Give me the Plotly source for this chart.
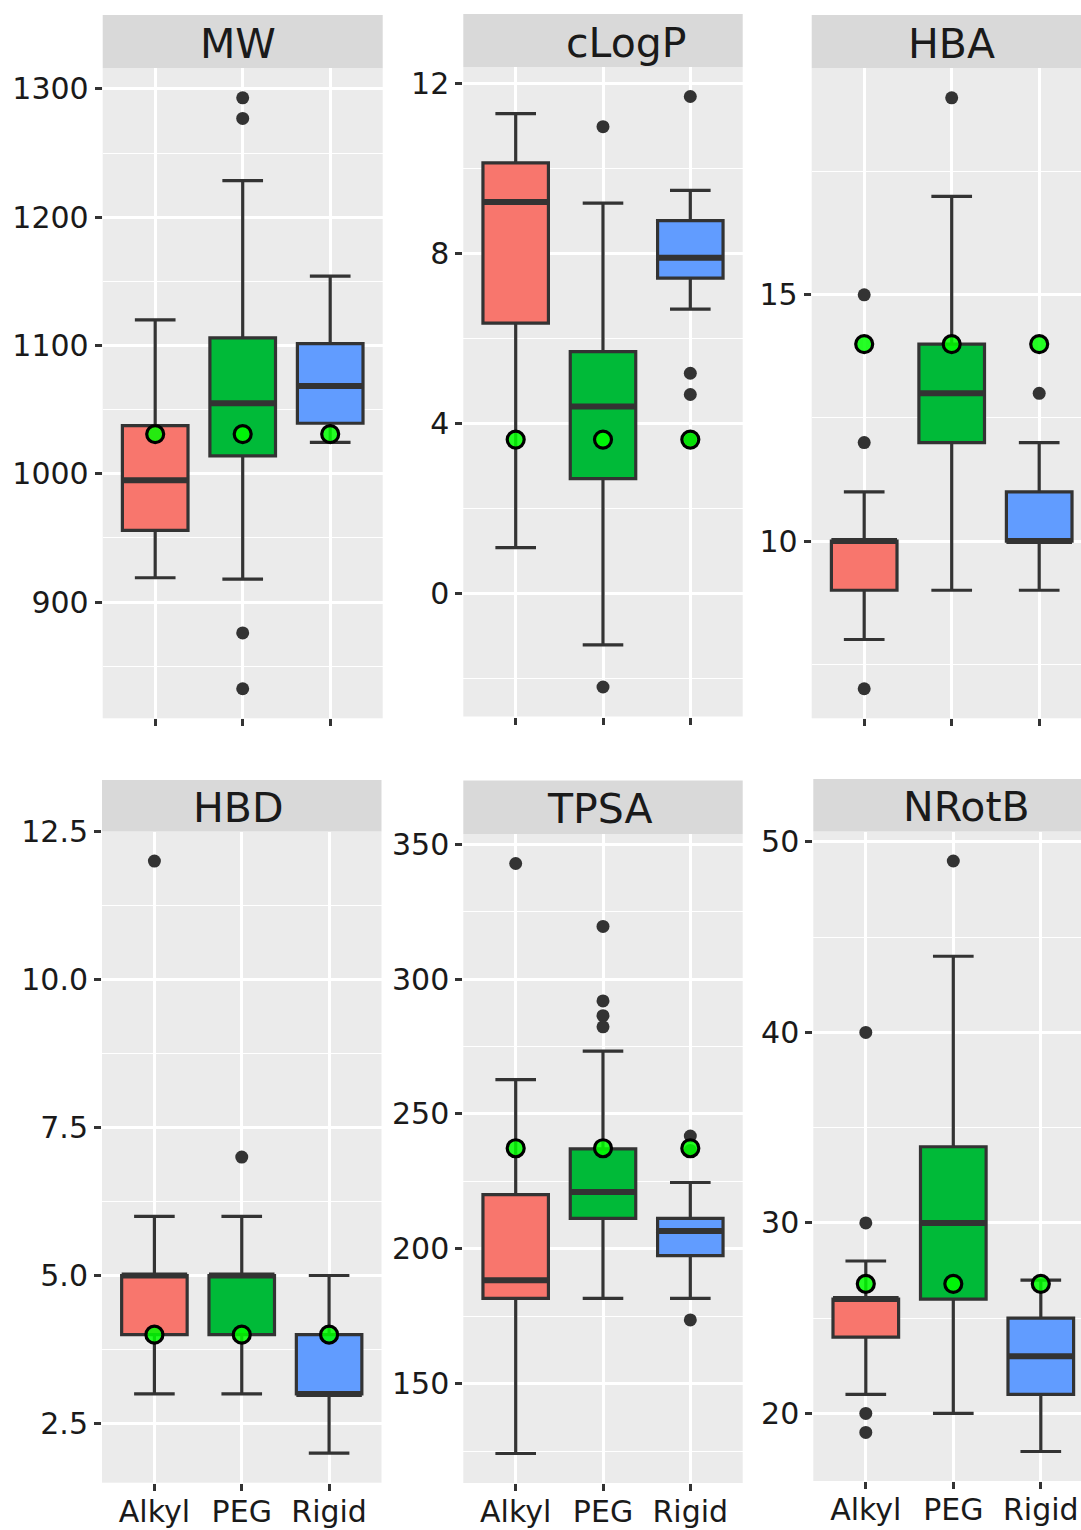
import plotly.graph_objects as go

# ---------------------------------------------------------------- data
groups = ["Alkyl", "PEG", "Rigid"]
group_colors = ["#F8766D", "#00BA38", "#619CFF"]

# Box statistics per linker class: lower whisker, Q1, median, Q3, upper whisker
mw_lower = [919, 918, 1024.5]
mw_q1 = [956, 1014, 1039.4]
mw_median = [995, 1055, 1068.4]
mw_q3 = [1037.6, 1106, 1101.5]
mw_upper = [1120, 1228.5, 1154]
mw_outliers = [[], [1293, 1277, 876, 832.5], []]
mw_ref = [1031, 1031, 1031]

clogp_lower = [1.09, -1.2, 6.70]
clogp_q1 = [6.37, 2.71, 7.43]
clogp_median = [9.22, 4.41, 7.91]
clogp_q3 = [10.14, 5.70, 8.78]
clogp_upper = [11.3, 9.19, 9.49]
clogp_outliers = [[], [10.99, -2.19], [11.70, 5.19, 4.69, 3.63]]
clogp_ref = [3.63, 3.63, 3.63]

hba_lower = [8, 9, 9]
hba_q1 = [9, 12, 10]
hba_median = [10, 13, 10]
hba_q3 = [10, 14, 11]
hba_upper = [11, 17, 12]
hba_outliers = [[15, 12, 7], [19], [13]]
hba_ref = [14, 14, 14]

hbd_lower = [3, 3, 2]
hbd_q1 = [4, 4, 3]
hbd_median = [5, 5, 3]
hbd_q3 = [5, 5, 4]
hbd_upper = [6, 6, 5]
hbd_outliers = [[12], [7], []]
hbd_ref = [4, 4, 4]

tpsa_lower = [124.2, 181.7, 181.7]
tpsa_q1 = [181.7, 211.3, 197.5]
tpsa_median = [188.4, 221.1, 206.6]
tpsa_q3 = [220.1, 237.1, 211.3]
tpsa_upper = [262.7, 273.3, 224.6]
tpsa_outliers = [[342.8], [319.5, 291.9, 286.4, 282.3], [241.8, 236.5, 173.7]]
tpsa_ref = [237.3, 237.3, 237.3]

nrotb_lower = [21, 20, 18]
nrotb_q1 = [24, 26, 21]
nrotb_median = [26, 30, 23]
nrotb_q3 = [26, 34, 25]
nrotb_upper = [28, 44, 27]
nrotb_outliers = [[40, 30, 20, 19], [49], []]
nrotb_ref = [26.8, 26.8, 26.8]

panel_titles = ["MW", "cLogP", "HBA", "HBD", "TPSA", "NRotB"]
panel_stats = [
    (mw_lower, mw_q1, mw_median, mw_q3, mw_upper, mw_outliers, mw_ref),
    (clogp_lower, clogp_q1, clogp_median, clogp_q3, clogp_upper, clogp_outliers, clogp_ref),
    (hba_lower, hba_q1, hba_median, hba_q3, hba_upper, hba_outliers, hba_ref),
    (hbd_lower, hbd_q1, hbd_median, hbd_q3, hbd_upper, hbd_outliers, hbd_ref),
    (tpsa_lower, tpsa_q1, tpsa_median, tpsa_q3, tpsa_upper, tpsa_outliers, tpsa_ref),
    (nrotb_lower, nrotb_q1, nrotb_median, nrotb_q3, nrotb_upper, nrotb_outliers, nrotb_ref),
]

# ---------------------------------------------------------------- layout geometry (pixels)
W, H = 1081, 1530
UNIT = 87.5  # pixels per category step

# left, right, strip_top, panel_top, panel_bottom, title_center_x, major, minor, tickformat
geometry = [
    (102.7, 382.7, 15, 68.3, 718.3, 238, 100, 50, ""),
    (463.3, 742.7, 14, 67.0, 716.5, 626, 4, 2, ""),
    (811.7, 1081, 15, 68.3, 718.3, 951.5, 5, 2.5, ""),
    (102.0, 381.5, 780, 831.5, 1482.7, 238, 2.5, 1.25, ".1f"),
    (463.3, 742.7, 780.5, 834.0, 1483.0, 600, 50, 25, ""),
    (813.3, 1081, 779, 831.5, 1481.0, 966, 10, 5, ""),
]


def fx(p):
    return p / W


def fy(p):
    return 1 - p / H


FONT = "DejaVu Sans"
INK = "#333333"
TEXT = "#1a1a1a"

fig = go.Figure()
shapes = []
annotations = []
layout_axes = {}

for k, (title, stats, geo) in enumerate(zip(panel_titles, panel_stats, geometry), start=1):
    lower, q1, median, q3, upper, outliers, ref = stats
    left, right, s_top, p_top, p_bot, title_x, major, minor, tfmt = geo
    xa, ya = f"x{k}", f"y{k}"

    for j, grp in enumerate(groups):
        pos = j + 1
        fig.add_trace(go.Box(
            x=[pos], q1=[q1[j]], median=[median[j]], q3=[q3[j]],
            lowerfence=[lower[j]], upperfence=[upper[j]],
            width=0.75, whiskerwidth=0.62,
            fillcolor=group_colors[j], line=dict(color=INK, width=3.2),
            boxpoints=False, showlegend=False, hoverinfo="skip",
            xaxis=xa, yaxis=ya,
        ))
        # thicker median bar
        fig.add_trace(go.Scatter(
            x=[pos - 0.375, pos + 0.375], y=[median[j], median[j]],
            mode="lines", line=dict(color=INK, width=6),
            showlegend=False, hoverinfo="skip", xaxis=xa, yaxis=ya,
        ))
        if outliers[j]:
            fig.add_trace(go.Scatter(
                x=[pos] * len(outliers[j]), y=outliers[j], mode="markers",
                marker=dict(size=13, color=INK),
                showlegend=False, hoverinfo="skip", xaxis=xa, yaxis=ya,
            ))

    # reference compound
    fig.add_trace(go.Scatter(
        x=[1, 2, 3], y=ref, mode="markers",
        marker=dict(size=17, color="rgba(0,255,0,0.85)", line=dict(color="black", width=3.2)),
        showlegend=False, hoverinfo="skip", xaxis=xa, yaxis=ya,
    ))

    # y range with 5% expansion of the data extent
    values = lower + q1 + median + q3 + upper + ref + [v for o in outliers for v in o]
    lo, hi = min(values), max(values)
    pad = 0.05 * (hi - lo)

    x_max = 0.4 + (right - left) / UNIT
    if right < 1000:
        x_max = 3.6

    suffix = "" if k == 1 else str(k)
    layout_axes[f"xaxis{suffix}"] = dict(
        domain=[fx(left), fx(right)], anchor=ya, range=[0.4, x_max],
        tickvals=[1, 2, 3], ticktext=groups, showticklabels=k > 3,
        ticks="outside", ticklen=7, tickwidth=2.5, tickcolor=INK,
        ticklabelstandoff=-5,
        tickfont=dict(family=FONT, size=30, color=TEXT),
        showgrid=True, gridcolor="white", gridwidth=2.6,
        zeroline=False, showline=False, automargin=False, fixedrange=True,
    )
    layout_axes[f"yaxis{suffix}"] = dict(
        domain=[fy(p_bot), fy(p_top)], anchor=xa, range=[lo - pad, hi + pad],
        tick0=0, dtick=major, tickformat=tfmt,
        ticks="outside", ticklen=7, tickwidth=2.5, tickcolor=INK,
        tickfont=dict(family=FONT, size=30, color=TEXT),
        showgrid=True, gridcolor="white", gridwidth=2.6,
        minor=dict(tick0=0, dtick=minor, showgrid=True, gridcolor="white", gridwidth=1.3, ticks=""),
        zeroline=False, showline=False, automargin=False, fixedrange=True,
    )

    # facet strip
    shapes.append(dict(
        type="rect", xref="paper", yref="paper",
        x0=fx(left), x1=fx(right), y0=fy(p_top), y1=fy(s_top),
        fillcolor="#D9D9D9", line=dict(width=0), layer="below",
    ))
    annotations.append(dict(
        text=title, xref="paper", yref="paper",
        x=fx(title_x), y=fy((s_top + p_top) / 2 + 2),
        xanchor="center", yanchor="middle", showarrow=False,
        font=dict(family=FONT, size=41, color=TEXT),
    ))

fig.update_layout(
    width=W, height=H, template="none",
    margin=dict(l=0, r=0, t=0, b=0, pad=0),
    paper_bgcolor="white", plot_bgcolor="#EBEBEB",
    boxmode="overlay", showlegend=False,
    shapes=shapes, annotations=annotations,
    font=dict(family=FONT, color=TEXT),
    **layout_axes,
)

fig.write_html("out.html", config={"displayModeBar": False})
